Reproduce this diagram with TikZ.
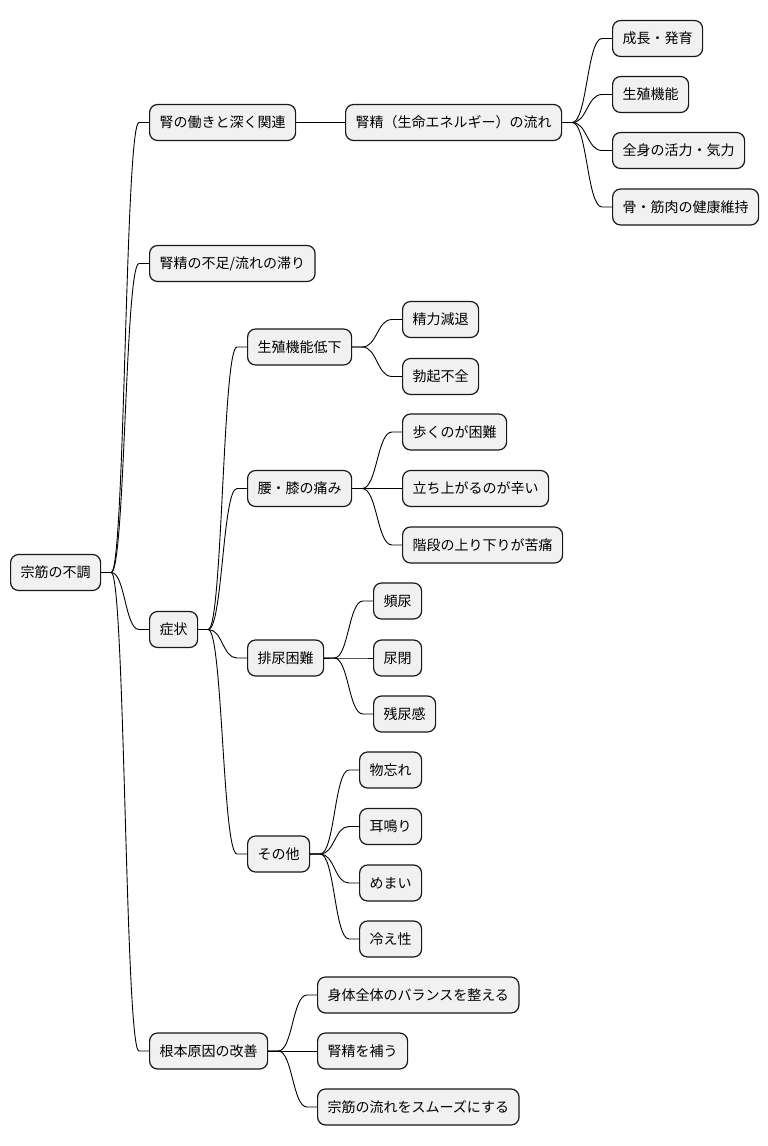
\documentclass[tikz,border=0pt]{standalone}
\usepackage{fontspec}
\setmainfont{Noto Sans CJK JP}
\usetikzlibrary{calc}
\definecolor{boxfill}{HTML}{F1F1F1}
\definecolor{boxline}{HTML}{181818}
\tikzset{
  mm/.style={draw=boxline, line width=1.2pt, fill=boxfill, rounded corners=8pt,
    minimum height=36pt, inner xsep=10pt, inner ysep=0pt, anchor=west,
    font=\fontsize{14}{16}\selectfont, text=black},
  link/.style={draw=black, line width=0.9pt}
}
\newcommand\mmconn[2]{%
  \draw[link] let \p1=(#1.east), \p2=(#2.west), \n1={(\x2-\x1-20pt)*0.5} in
    (\p1) -- (\x1+10pt,\y1) .. controls +(\n1,0) and +(-\n1,0) .. (\x2-10pt,\y2) -- (\p2);}
\begin{document}
\begin{tikzpicture}[x=1pt,y=-1pt]
\useasboundingbox (0,0) rectangle (768,1146);
\fill[white] (0,0) rectangle (768,1146);
\node[mm] (root) at (10,572.5) {宗筋の不調};
\node[mm] (a) at (149,122.5) {腎の働きと深く関連};
\node[mm] (a1) at (345,122.5) {腎精（生命エネルギー）の流れ};
\node[mm] (a11) at (612,38.5) {成長・発育};
\node[mm] (a12) at (612,94.5) {生殖機能};
\node[mm] (a13) at (612,150.5) {全身の活力・気力};
\node[mm] (a14) at (612,207) {骨・筋肉の健康維持};
\node[mm] (b) at (149,263.5) {腎精の不足/流れの滞り};
\node[mm] (c) at (149,629.5) {症状};
\node[mm] (c1) at (247,347) {生殖機能低下};
\node[mm] (c11) at (402,319.5) {精力減退};
\node[mm] (c12) at (402,376.5) {勃起不全};
\node[mm] (c2) at (247,488.5) {腰・膝の痛み};
\node[mm] (c21) at (402,432) {歩くのが困難};
\node[mm] (c22) at (402,488.5) {立ち上がるのが辛い};
\node[mm] (c23) at (402,545) {階段の上り下りが苦痛};
\node[mm] (c3) at (247,658) {排尿困難};
\node[mm] (c31) at (373,601) {頻尿};
\node[mm] (c32) at (373,658) {尿閉};
\node[mm] (c33) at (373,714) {残尿感};
\node[mm] (c4) at (247,854) {その他};
\node[mm] (c41) at (359,770) {物忘れ};
\node[mm] (c42) at (359,826.5) {耳鳴り};
\node[mm] (c43) at (359,883) {めまい};
\node[mm] (c44) at (359,939) {冷え性};
\node[mm] (d) at (149,1051) {根本原因の改善};
\node[mm] (d1) at (317,995) {身体全体のバランスを整える};
\node[mm] (d2) at (317,1051) {腎精を補う};
\node[mm] (d3) at (317,1107) {宗筋の流れをスムーズにする};
\mmconn{root}{a}\mmconn{root}{b}\mmconn{root}{c}\mmconn{root}{d}
\mmconn{a}{a1}
\mmconn{a1}{a11}\mmconn{a1}{a12}\mmconn{a1}{a13}\mmconn{a1}{a14}
\mmconn{c}{c1}\mmconn{c}{c2}\mmconn{c}{c3}\mmconn{c}{c4}
\mmconn{c1}{c11}\mmconn{c1}{c12}
\mmconn{c2}{c21}\mmconn{c2}{c22}\mmconn{c2}{c23}
\mmconn{c3}{c31}\mmconn{c3}{c32}\mmconn{c3}{c33}
\mmconn{c4}{c41}\mmconn{c4}{c42}\mmconn{c4}{c43}\mmconn{c4}{c44}
\mmconn{d}{d1}\mmconn{d}{d2}\mmconn{d}{d3}
\end{tikzpicture}
\end{document}
